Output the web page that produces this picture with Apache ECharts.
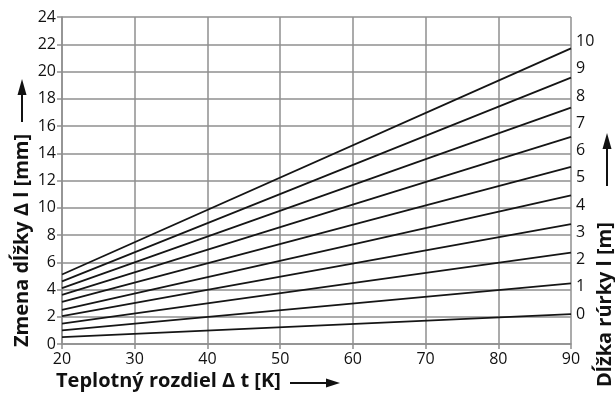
<!DOCTYPE html>
<html>
<head>
<meta charset="utf-8">
<script src="https://cdn.jsdelivr.net/npm/echarts@6/dist/echarts.min.js"></script>
<style>html,body{margin:0;padding:0;background:#fff;}#c{width:615px;height:396px;}</style>
</head>
<body>
<div id="c"></div>
<script>
// Data
const xStart = 20;
const xEnd = 90;
const xLabels = [20, 30, 40, 50, 60, 70, 80, 90];
const yLabels = [0, 2, 4, 6, 8, 10, 12, 14, 16, 18, 20, 22, 24];
const lengthLabels = [0, 1, 2, 3, 4, 5, 6, 7, 8, 9, 10];
const lineStart = [0.5, 1.0, 1.5, 2.05, 2.5, 3.1, 3.6, 4.1, 4.6, 5.1];
const lineEnd = [2.2, 4.45, 6.7, 8.8, 10.9, 13.0, 15.2, 17.35, 19.55, 21.7];

const FONT = '"Open Sans", "Noto Sans", sans-serif';
const GRID = '#8f8f8f';

const series = lineStart.map((s, i) => ({
  type: 'line',
  xAxisIndex: 0,
  yAxisIndex: 0,
  symbol: 'none',
  silent: true,
  lineStyle: { color: '#151515', width: 1.8 },
  data: [[xStart, s], [xEnd, lineEnd[i]]]
}));

const chart = echarts.init(document.getElementById('c'), null, { renderer: 'canvas' });
chart.setOption({
  animation: false,
  backgroundColor: '#fff',
  grid: { left: 62, right: 44, top: 17, bottom: 52, containLabel: false },
  xAxis: {
    type: 'value', min: 20, max: 90, interval: 5,
    axisLine: { show: true, lineStyle: { color: GRID, width: 1.5 } },
    axisTick: { show: true, length: 5, customValues: xLabels, lineStyle: { color: GRID, width: 1.5 } },
    axisLabel: { customValues: xLabels, color: '#111', fontSize: 16, fontFamily: FONT, margin: 7 },
    splitLine: { show: true, lineStyle: { color: GRID, width: 1.5 } }
  },
  yAxis: [{
    type: 'value', min: 0, max: 24, interval: 2,
    axisLine: { show: true, lineStyle: { color: GRID, width: 1.5 } },
    axisTick: { show: true, length: 5, lineStyle: { color: GRID, width: 1.5 } },
    axisLabel: { customValues: yLabels, color: '#111', fontSize: 16, fontFamily: FONT, margin: 6 },
    splitLine: { show: true, lineStyle: { color: GRID, width: 1.5 } }
  }, {
    type: 'value', position: 'right', min: -1.1, max: 10.9,
    axisLine: { show: false },
    axisTick: { show: false },
    splitLine: { show: false },
    axisLabel: { customValues: lengthLabels, color: '#111', fontSize: 16, fontFamily: FONT, margin: 5 }
  }],
  series: series,
  graphic: [
    { type: 'text', left: 56, top: 371, style: { text: 'Teplotný rozdiel Δ t [K]', font: 'bold 20px ' + FONT, fill: '#111' } },
    { type: 'line', shape: { x1: 290, y1: 383, x2: 329, y2: 383 }, style: { stroke: '#111', lineWidth: 2 } },
    { type: 'polygon', shape: { points: [[340, 383], [326, 378.5], [326, 387.5]] }, style: { fill: '#111' } },

    { type: 'text', x: 22, y: 347, rotation: Math.PI / 2, style: { text: 'Zmena dĺžky Δ l [mm]', font: 'bold 20px ' + FONT, fill: '#111', textAlign: 'left', textVerticalAlign: 'middle' } },
    { type: 'line', shape: { x1: 22, y1: 122, x2: 22, y2: 92 }, style: { stroke: '#111', lineWidth: 2 } },
    { type: 'polygon', shape: { points: [[22, 79], [17.5, 95], [26.5, 95]] }, style: { fill: '#111' } },

    { type: 'text', x: 605, y: 387, rotation: Math.PI / 2, style: { text: 'Dĺžka rúrky l [m]', font: 'bold 20px ' + FONT, fill: '#111', textAlign: 'left', textVerticalAlign: 'middle' } },
    { type: 'line', shape: { x1: 607, y1: 186, x2: 607, y2: 146 }, style: { stroke: '#111', lineWidth: 2 } },
    { type: 'polygon', shape: { points: [[607, 133], [602.5, 149], [611.5, 149]] }, style: { fill: '#111' } }
  ]
});
</script>
</body>
</html>
